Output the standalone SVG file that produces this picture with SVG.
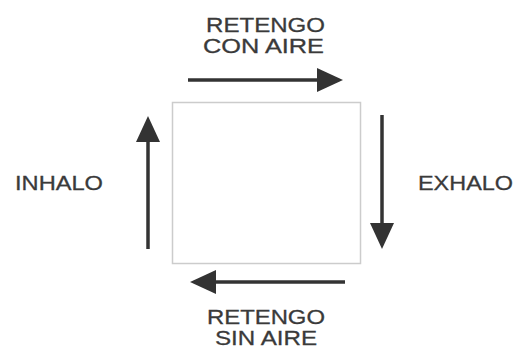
<svg xmlns="http://www.w3.org/2000/svg" width="525" height="351" viewBox="0 0 525 351">
<defs>
<marker id="ah" markerUnits="userSpaceOnUse" markerWidth="26" markerHeight="24" viewBox="0 0 26 24" refX="1" refY="12" orient="auto">
<path d="M0,0 L26,12 L0,24 z" fill="#333333"/>
</marker>
<style>
.lbl{font-family:"Liberation Sans",Arial,sans-serif;font-size:21px;fill:#3a3a3a;stroke:#3a3a3a;stroke-width:0.3;text-anchor:middle}
.conn{stroke:#333333;stroke-width:3.5;fill:none;marker-end:url(#ah)}
</style>
</defs>
<rect width="525" height="351" fill="#ffffff"/>
<g id="box"><rect x="172.5" y="102.5" width="188" height="161" fill="#ffffff" stroke="#cccccc" stroke-width="1.5"/></g>
<g id="connectors">
<line class="conn" x1="188" y1="80" x2="318" y2="80"/>
<line class="conn" x1="382" y1="115" x2="382" y2="224"/>
<line class="conn" x1="345" y1="282" x2="215" y2="282"/>
<line class="conn" x1="148" y1="249" x2="148" y2="141"/>
</g>
<g id="top-label">
<text class="lbl" x="265.5" y="31.5" textLength="119" lengthAdjust="spacingAndGlyphs">RETENGO</text>
<text class="lbl" x="263.5" y="52.5" textLength="121" lengthAdjust="spacingAndGlyphs">CON AIRE</text>
</g>
<g id="right-label"><text class="lbl" x="465.5" y="190" textLength="95" lengthAdjust="spacingAndGlyphs">EXHALO</text></g>
<g id="bottom-label">
<text class="lbl" x="266" y="324" textLength="118" lengthAdjust="spacingAndGlyphs">RETENGO</text>
<text class="lbl" x="266" y="345" textLength="102" lengthAdjust="spacingAndGlyphs">SIN AIRE</text>
</g>
<g id="left-label"><text class="lbl" x="59" y="190" textLength="88" lengthAdjust="spacingAndGlyphs">INHALO</text></g>
</svg>
